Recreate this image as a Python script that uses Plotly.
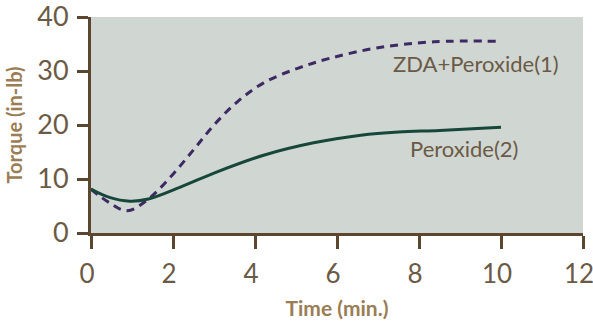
import plotly.graph_objects as go

# Data
zda_x = [0, 0.45, 0.88, 1.4, 2.0, 2.5, 3.0, 3.57, 4.21, 5.04, 5.85, 7.0, 8.37, 10.0]
zda_y = [8.1, 5.6, 4.1, 6.3, 10.9, 15.4, 20.0, 24.3, 27.8, 30.5, 32.4, 34.3, 35.4, 35.5]

per_x = [0, 0.45, 0.95, 1.4, 2.18, 3.0, 4.21, 5.43, 6.58, 7.5, 8.5, 10.0]
per_y = [8.15, 6.6, 5.9, 6.3, 8.5, 11.1, 14.4, 16.7, 18.1, 18.7, 19.0, 19.6]

x_ticks = [0, 2, 4, 6, 8, 10, 12]
y_ticks = [0, 10, 20, 30, 40]

label_zda = "ZDA+Peroxide(1)"
label_per = "Peroxide(2)"

axis_col = "#5b4630"
tick_font_col = "#6b5a45"
title_col = "#9a7d55"
font_family = "Lato, 'Open Sans', sans-serif"

fig = go.Figure()
fig.add_trace(go.Scatter(x=zda_x, y=zda_y, mode="lines",
                         line=dict(color="#3e2a63", width=3, dash="8px,6px", shape="spline"),
                         showlegend=False))
fig.add_trace(go.Scatter(x=per_x, y=per_y, mode="lines",
                         line=dict(color="#17473a", width=3, shape="spline"),
                         showlegend=False))

fig.add_annotation(x=9.4, y=31.4, text=label_zda, showarrow=False,
                   font=dict(family=font_family, size=22, color=tick_font_col))
fig.add_annotation(x=9.1, y=15.6, text=label_per, showarrow=False,
                   font=dict(family=font_family, size=22, color=tick_font_col))

fig.update_xaxes(range=[0, 12], tickvals=x_ticks, ticktext=[str(v) for v in x_ticks],
                 automargin=False,
                 showgrid=False, zeroline=False, showline=True, linecolor=axis_col, linewidth=3,
                 ticks="outside", ticklen=13, tickwidth=3, tickcolor=axis_col,
                 ticklabelstandoff=3, ticklabelshift=-4,
                 tickfont=dict(family=font_family, size=26, color=tick_font_col),
                 title=dict(text="Time (min.)", standoff=14,
                            font=dict(family=font_family, size=21, color=title_col, weight="bold")))
fig.update_yaxes(range=[0, 40], tickvals=y_ticks, ticktext=[str(v) for v in y_ticks],
                 automargin=False,
                 showgrid=False, zeroline=False, showline=True, linecolor=axis_col, linewidth=3,
                 ticks="outside", ticklen=11, tickwidth=3, tickcolor=axis_col,
                 ticklabelstandoff=3,
                 tickfont=dict(family=font_family, size=27, color=tick_font_col),
                 title=dict(text="Torque (in-lb)", standoff=10,
                            font=dict(family=font_family, size=20, color=title_col, weight="bold")))

# paper extends 20px above the visible window so the top tick label is not dropped
fig.update_layout(width=600, height=342,
                  margin=dict(l=91, r=17, t=37, b=89),
                  plot_bgcolor="#d0d6d2", paper_bgcolor="white")

fig.write_html("out.html", config={"displayModeBar": False},
               post_script="document.body.style.margin='-20px 0 0 0';")
